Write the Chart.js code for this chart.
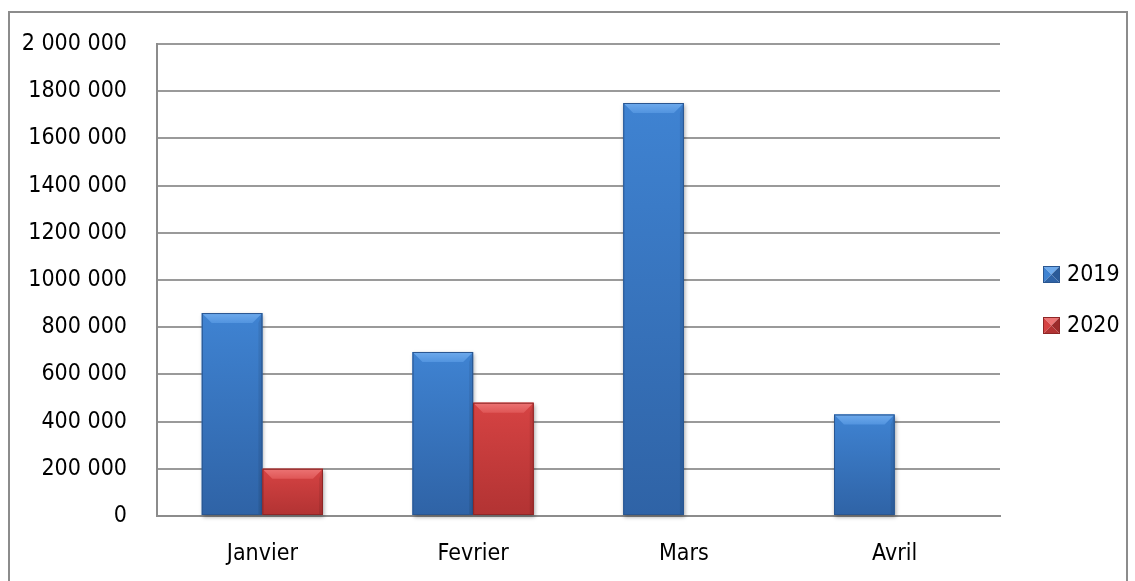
<!DOCTYPE html>
<html>
<head>
<meta charset="utf-8">
<script src="https://cdn.jsdelivr.net/npm/chart.js@4/dist/chart.umd.min.js"></script>
<style>
  html, body { margin: 0; padding: 0; background: #ffffff; }
  #wrap { position: relative; width: 1135px; height: 581px; overflow: hidden; }
  #frame { position: absolute; left: 8px; top: 11px; width: 1120px; height: 640px;
           border: 2px solid #8c8c8c; box-sizing: border-box; pointer-events: none; }
  canvas { position: absolute; left: 0; top: 0; }
</style>
</head>
<body>
<div id="wrap">
  <canvas id="c" width="1135" height="581"></canvas>
  <div id="frame"></div>
</div>
<script>
// Monthly totals per year
const months = ['Janvier', 'Fevrier', 'Mars', 'Avril'];
const series2019 = [860000, 695000, 1750000, 430000];
const series2020 = [200000, 480000, null, null];
const seriesNames = ['2019', '2020'];
const yTickLabels = ['0', '200 000', '400 000', '600 000', '800 000', '1000 000',
                     '1200 000', '1400 000', '1600 000', '1800 000', '2 000 000'];

const FONT = "'DejaVu Sans Condensed', 'Liberation Sans Narrow', 'Roboto', sans-serif";
const FONT_SIZE = 23;

// Shading for the bevelled bars
const palettes = [
  { top: '#3f83d2', bottom: '#2f63a6', bevelHi: '#6eaaec', bevelLo: '#5294df', edge: '#2a5690', dark: '#2a5a98' },
  { top: '#d64343', bottom: '#b23333', bevelHi: '#ec7474', bevelLo: '#df5656', edge: '#8e2626', dark: '#9c2b2b' }
];

function drawBevelBox(ctx, l, t, w, h, pal, size) {
  if (h <= 0) return;
  const b = Math.min(size, h / 2, w / 2);
  ctx.save();
  ctx.shadowColor = 'rgba(0,0,0,0.35)';
  ctx.shadowBlur = 4;
  ctx.shadowOffsetX = 1;
  ctx.shadowOffsetY = 2;
  const g = ctx.createLinearGradient(0, t, 0, t + h);
  g.addColorStop(0, pal.top);
  g.addColorStop(1, pal.bottom);
  ctx.fillStyle = g;
  ctx.fillRect(l, t, w, h);
  ctx.restore();

  ctx.save();
  // top bevel
  const gb = ctx.createLinearGradient(0, t, 0, t + b);
  gb.addColorStop(0, pal.bevelHi);
  gb.addColorStop(1, pal.bevelLo);
  ctx.beginPath();
  ctx.moveTo(l, t); ctx.lineTo(l + w, t); ctx.lineTo(l + w - b, t + b); ctx.lineTo(l + b, t + b);
  ctx.closePath();
  ctx.fillStyle = gb;
  ctx.fill();
  // right side, slightly shaded
  ctx.beginPath();
  ctx.moveTo(l + w, t); ctx.lineTo(l + w - 4, t + b); ctx.lineTo(l + w - 4, t + h); ctx.lineTo(l + w, t + h);
  ctx.closePath();
  ctx.fillStyle = 'rgba(0,0,0,0.08)';
  ctx.fill();
  // outline
  ctx.strokeStyle = pal.edge;
  ctx.lineWidth = 1;
  ctx.strokeRect(l + 0.5, t + 0.5, w - 1, h - 1);
  ctx.restore();
}

function drawLegendBox(ctx, l, t, s, pal) {
  const cx = l + s / 2, cy = t + s / 2;
  const tri = (pts, col) => {
    ctx.beginPath();
    ctx.moveTo(pts[0][0], pts[0][1]);
    pts.slice(1).forEach(p => ctx.lineTo(p[0], p[1]));
    ctx.closePath();
    ctx.fillStyle = col;
    ctx.fill();
  };
  tri([[l, t], [l + s, t], [cx, cy]], pal.bevelHi);
  tri([[l, t], [cx, cy], [l, t + s]], pal.top);
  tri([[l + s, t], [cx, cy], [l + s, t + s]], pal.dark);
  tri([[l, t + s], [cx, cy], [l + s, t + s]], pal.bottom);
  ctx.strokeStyle = pal.edge;
  ctx.lineWidth = 1;
  ctx.strokeRect(l + 0.5, t + 0.5, s - 1, s - 1);
}

const bevelPlugin = {
  id: 'bevelBars',
  afterDatasetsDraw(chart) {
    const ctx = chart.ctx;
    chart.data.datasets.forEach((ds, di) => {
      const meta = chart.getDatasetMeta(di);
      const pal = palettes[di];
      meta.data.forEach((bar, i) => {
        if (ds.data[i] == null) return;
        const p = bar.getProps(['x', 'y', 'base', 'width'], true);
        drawBevelBox(ctx, p.x - p.width / 2, p.y, p.width, p.base - p.y, pal, 10);
      });
    });
  },
  afterDraw(chart) {
    // legend on the right, rows centred around y = 300
    const ctx = chart.ctx;
    const area = chart.chartArea;
    const rowGap = 51;
    const boxSize = 17;
    const centerY = 300;
    const n = chart.data.datasets.length;
    ctx.save();
    chart.data.datasets.forEach((ds, i) => {
      const cy = centerY + (i - (n - 1) / 2) * rowGap;
      drawLegendBox(ctx, area.right + 43, cy - boxSize / 2, boxSize, palettes[i]);
      ctx.font = FONT_SIZE + 'px ' + FONT;
      ctx.textBaseline = 'middle';
      ctx.fillStyle = '#000000';
      ctx.fillText(ds.label, area.right + 67, cy + 1);
    });
    ctx.restore();
  }
};

new Chart(document.getElementById('c'), {
  type: 'bar',
  data: {
    labels: months,
    datasets: [
      { label: seriesNames[0], data: series2019, backgroundColor: palettes[0].top },
      { label: seriesNames[1], data: series2020, backgroundColor: palettes[1].top }
    ]
  },
  options: {
    responsive: false,
    animation: false,
    devicePixelRatio: 1,
    layout: { padding: { left: 0, right: 135, top: 44, bottom: 0 } },
    datasets: { bar: { categoryPercentage: 0.575, barPercentage: 1.0 } },
    plugins: {
      legend: { display: false },
      tooltip: { enabled: false }
    },
    scales: {
      x: {
        grid: { display: false, drawTicks: false },
        border: { display: true, color: '#8c8c8c', width: 2 },
        ticks: { color: '#000', padding: 24, font: { family: FONT, size: FONT_SIZE } },
        afterFit(scale) { scale.height = 65; }
      },
      y: {
        min: 0,
        max: 2000000,
        grid: { color: '#9a9a9a', lineWidth: 2, drawTicks: false },
        border: { display: true, color: '#8c8c8c', width: 2 },
        ticks: {
          stepSize: 200000,
          color: '#000',
          padding: 30,
          font: { family: FONT, size: FONT_SIZE },
          callback: (v, i) => yTickLabels[i]
        },
        afterFit(scale) { scale.width = 157; }
      }
    }
  },
  plugins: [bevelPlugin]
});
</script>
</body>
</html>
